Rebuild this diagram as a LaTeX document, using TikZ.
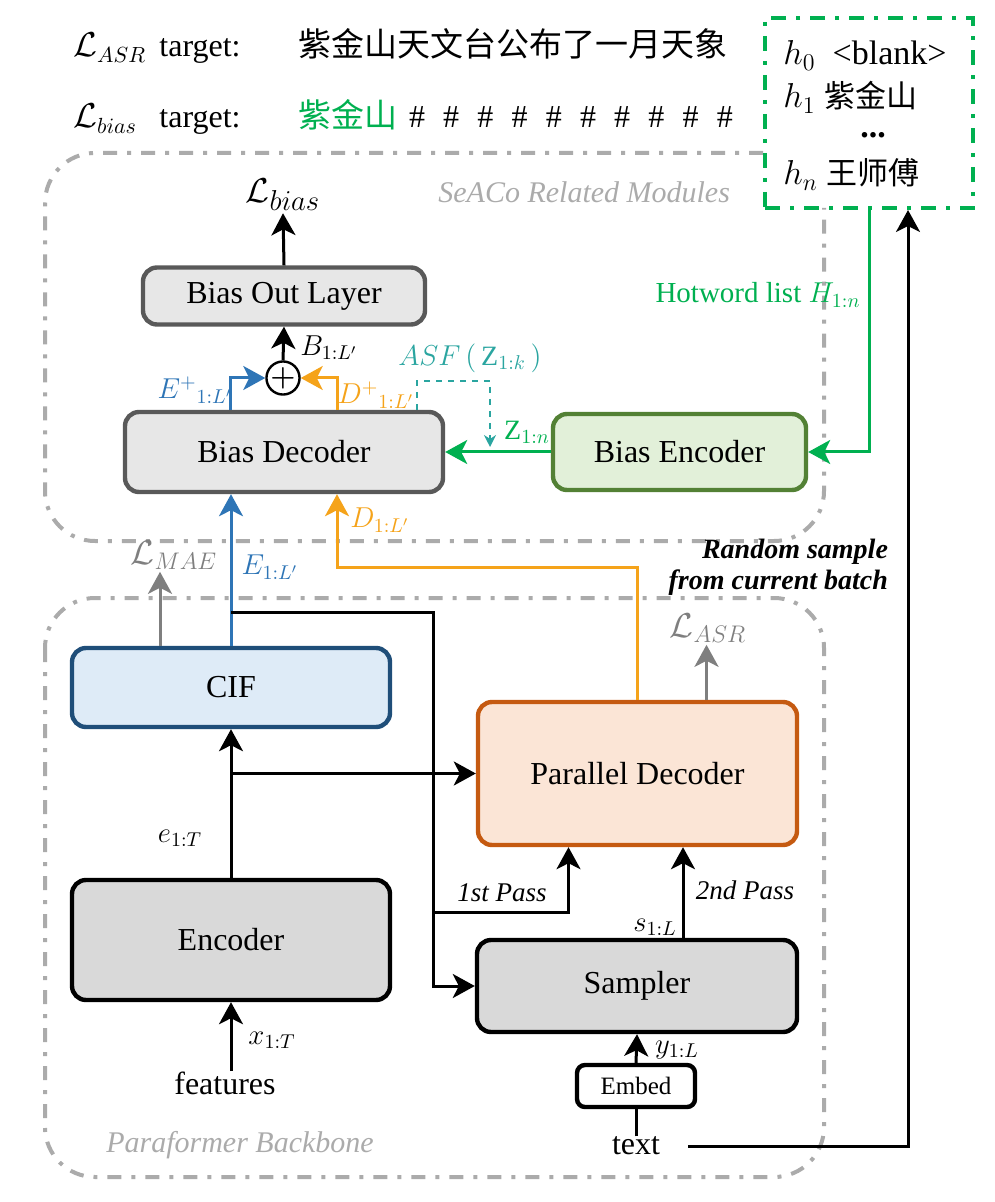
\documentclass[tikz,border=0pt]{standalone}
\usepackage{amsmath}
\usepackage{fontspec}
\setmainfont{Liberation Serif}
\newfontfamily\cjk{Noto Sans CJK SC}
\usetikzlibrary{arrows.meta,positioning,calc}
\definecolor{seablue}{HTML}{2E75B6}
\definecolor{cifedge}{HTML}{1F4E79}
\definecolor{ciffill}{HTML}{DEEBF7}
\definecolor{orng}{HTML}{F5A31A}
\definecolor{pdedge}{HTML}{C55A11}
\definecolor{pdfill}{HTML}{FBE5D6}
\definecolor{hwgreen}{HTML}{00B050}
\definecolor{encedge}{HTML}{538135}
\definecolor{encfill}{HTML}{E2F0D9}
\definecolor{asfteal}{HTML}{2AA5A0}
\definecolor{rgngray}{HTML}{ABABAB}
\definecolor{lossgray}{HTML}{7F7F7F}
\definecolor{boxgray}{HTML}{E7E7E7}
\definecolor{edgegray}{HTML}{595959}
\definecolor{blkfill}{HTML}{D9D9D9}
\tikzset{
  modbox/.style  ={draw, rounded corners=7pt, line width=2.2pt, inner sep=0pt,
                   font=\fontsize{16}{18}\selectfont},
  biasbox/.style ={modbox, draw=edgegray, fill=boxgray},
  encbox/.style  ={modbox, draw=encedge, fill=encfill},
  cifbox/.style  ={modbox, draw=cifedge, fill=ciffill},
  pdbox/.style   ={modbox, draw=pdedge, fill=pdfill},
  bbbox/.style   ={modbox, draw=black, fill=blkfill},
  arr/.style     ={-{Stealth[length=11pt,width=12pt,inset=3pt]}, line width=1.5pt},
  barr/.style    ={arr, seablue},
  oarr/.style    ={arr, orng},
  garr/.style    ={arr, hwgreen},
  lossarr/.style ={arr, lossgray},
  asfarr/.style  ={-{Stealth[length=6pt,width=6pt]}, line width=0.8pt,
                   asfteal, dashed},
  rgn/.style     ={rgngray, line width=2pt, rounded corners=25pt,
                   dash pattern=on 7pt off 5pt on 2pt off 5pt},
  rgnlbl/.style  ={font=\fontsize{15}{17}\selectfont\itshape, text=rgngray},
  sym/.style     ={font=\fontsize{14}{16}\selectfont, inner sep=1pt},
  big/.style     ={font=\fontsize{16}{18}\selectfont, inner sep=0pt},
  hwline/.style  ={anchor=base west, font=\fontsize{17}{18}\selectfont, inner sep=0pt},
  passlbl/.style ={font=\fontsize{13.5}{15}\selectfont\itshape},
  cjktxt/.style  ={font=\cjk\fontsize{16.5}{18}\selectfont, inner sep=0pt},
}

\begin{document}
\begin{tikzpicture}[x=0.5pt, y=-0.5pt]
  \useasboundingbox (0,0) rectangle (994,1202);
  % module regions
  \draw[rgn] (763,153) -- (45,153) -- (45,541) -- (824,541) -- (824,208);
  \draw[rgn] (45,598) rectangle (824,1177);
  \node[rgnlbl, anchor=east] (seacolbl) at (737,192) {SeACo Related Modules};
  \node[rgnlbl] (paralbl) at (240,1145) {Paraformer Backbone};

  % targets
  \node[big, anchor=base west] (asrloss) at (73,57) {$\mathcal{L}_{ASR}$};
  \node[big, anchor=base west] (asrtgt) at (159,57) {target:};
  \node[cjktxt, anchor=base west] (asrtxt) at (298,57) {紫金山天文台公布了一月天象};
  \node[big, anchor=base west] (biasloss) at (73,128) {$\mathcal{L}_{bias}$};
  \node[big, anchor=base west] (biastgt) at (159,128) {target:};
  \node[cjktxt, anchor=base west, text=hwgreen] (biastxt) at (298,128) {紫金山};
  \foreach \i in {0,...,9}
    \node[big, anchor=base] (hash\i) at (417+34.2*\i,128) {\#};

  % hotword list
  \node[draw=hwgreen, line width=2pt, minimum width=104pt, minimum height=95pt,
        dash pattern=on 7.5pt off 5pt on 2pt off 5pt] (hotlist) at (869,113) {};
  \node[hwline] (hw0) at (783,65) {$h_0$\ \ <blank>};
  \node[hwline] (hw1) at (783,108) {$h_1$ {\cjk\fontsize{15.5}{17}\selectfont 紫金山}};
  \node[font=\bfseries\fontsize{17}{18}\selectfont, inner sep=0pt, anchor=base] (hwdots) at (873,138) {...};
  \node[hwline] (hwn) at (783,185) {$h_n$ {\cjk\fontsize{15.5}{17}\selectfont 王师傅}};

  % SeACo modules
  \node[font=\fontsize{19}{20}\selectfont, inner sep=1pt] (lbias) at (283,195) {$\mathcal{L}_{bias}$};
  \node[biasbox, minimum width=141pt, minimum height=28.5pt] (outlayer) at (284,296) {Bias Out Layer};
  \node[draw, circle, line width=1.2pt, minimum size=14pt, inner sep=0pt,
        font=\fontsize{14}{14}\selectfont] (plus) at (283,378) {$\boldsymbol{+}$};
  \node[biasbox, minimum width=159pt, minimum height=40pt] (biasdec) at (284,452) {Bias Decoder};
  \node[encbox, minimum width=126.5pt, minimum height=38pt] (biasenc) at (679.5,452) {Bias Encoder};

  % Paraformer modules
  \node[cifbox, minimum width=159pt, minimum height=39.5pt] (cif) at (231,687.5) {CIF};
  \node[pdbox, minimum width=159.5pt, minimum height=71.5pt] (pardec) at (637.5,773.5) {Parallel Decoder};
  \node[bbbox, minimum width=159pt, minimum height=60pt] (enc) at (231,940) {Encoder};
  \node[bbbox, minimum width=160pt, minimum height=46pt] (sampler) at (637,986) {Sampler};
  \node[draw, rounded corners=4pt, line width=2.2pt, minimum width=59pt, minimum height=21pt,
        inner sep=0pt, font=\fontsize{12.5}{14}\selectfont] (embed) at (636,1086) {Embed};
  \node[big] (feat) at (225,1083) {features};
  \node[big] (txt) at (636,1146) {text};

  % labels
  \node[sym, anchor=west] (blbl) at (298,348) {$B_{1:L'}$};
  \node[sym, text=seablue] (eplus) at (195,390) {${E^{+}}_{1:L'}$};
  \node[sym, text=orng] (dplus) at (376,395) {${D^{+}}_{1:L'}$};
  \node[sym, text=asfteal] (asflbl) at (470,358) {$ASF\,(\,\mathrm{Z}_{1:k}\,)$};
  \node[sym, text=hwgreen] (zlbl) at (527,432) {$\mathrm{Z}_{1:n}$};
  \node[font=\fontsize{14.5}{16}\selectfont, text=hwgreen] (hotlbl) at (758,295) {Hotword list $H_{1:n}$};
  \node[sym, text=orng] (dlbl) at (380,520) {$D_{1:L'}$};
  \node[sym, text=seablue] (elbl) at (270,567) {$E_{1:L'}$};
  \node[font=\fontsize{17}{18}\selectfont, text=lossgray, inner sep=1pt] (lmae) at (174,555) {$\mathcal{L}_{MAE}$};
  \node[font=\fontsize{17}{18}\selectfont, text=lossgray, inner sep=1pt] (lasr) at (708,628) {$\mathcal{L}_{ASR}$};
  \node[font=\bfseries\itshape\fontsize{14}{15.5}\selectfont, anchor=east, align=right]
    (rsample) at (895,567) {Random sample\\from current batch};
  \node[sym] (enclbl) at (180,838) {$e_{1:T}$};
  \node[passlbl] (pass1) at (502,893) {1st Pass};
  \node[passlbl] (pass2) at (745,890) {2nd Pass};
  \node[sym] (slbl) at (655,927) {$s_{1:L}$};
  \node[sym] (xlbl) at (272,1040) {$x_{1:T}$};
  \node[sym] (ylbl) at (677,1050) {$y_{1:L}$};

  % connectors
  \coordinate (asftip) at (490,447);
  \coordinate (maefoot) at ($(cif.north)+(-71,0)$);
  \coordinate (asrfoot) at ($(pardec.north)+(69,0)$);
  \coordinate (bus) at ($(cif.north)+(202,-33)$);
  \coordinate (split) at (433,912);
  \coordinate (pass1foot) at ($(pardec.south)+(-69,0)$);
  \coordinate (pass2foot) at ($(sampler.north)+(46,0)$);

  \draw[arr] (outlayer.north) -- (lbias.south);
  \draw[arr] (plus.north) -- (outlayer.south);
  \draw[barr] ($(biasdec.north)+(-54,0)$) |- (plus.west);
  \draw[oarr] ($(biasdec.north)+(53,0)$) |- (plus.east);
  \draw[asfarr] ($(biasdec.north)+(133,0)$) -- ++(0,-29) -| (asftip);
  \draw[garr] (biasenc.west) -- (biasdec.east);
  \draw[garr] (hotlist.south) |- (biasenc.east);
  \draw[arr] ([xshift=14pt]txt.east) -| ($(hotlist.south)+(39,0)$);

  \draw[barr] (cif.north) -- (cif.north |- biasdec.south);
  \draw[oarr] (pardec.north) -- ++(0,-132) -| ($(biasdec.south)+(53,0)$);
  \draw[lossarr] (maefoot) -- (maefoot |- lmae.south);
  \draw[lossarr] (asrfoot) -- (asrfoot |- lasr.south);
  \draw[arr] (cif.north |- bus) -- (bus) |- (sampler.west);
  \draw[arr] (split) -| (pass1foot);
  \draw[arr] (enc.north) -- (cif.south);
  \draw[arr] (enc.north |- pardec.west) -- (pardec.west);
  \draw[arr] (enc.south |- feat.north) -- (enc.south);
  \draw[arr] (pass2foot) -- (pass2foot |- pardec.south);
  \draw[arr] (embed.north) -- (sampler.south);
  \draw[line width=1.5pt] (txt.north) -- (embed.south);
\end{tikzpicture}
\end{document}
